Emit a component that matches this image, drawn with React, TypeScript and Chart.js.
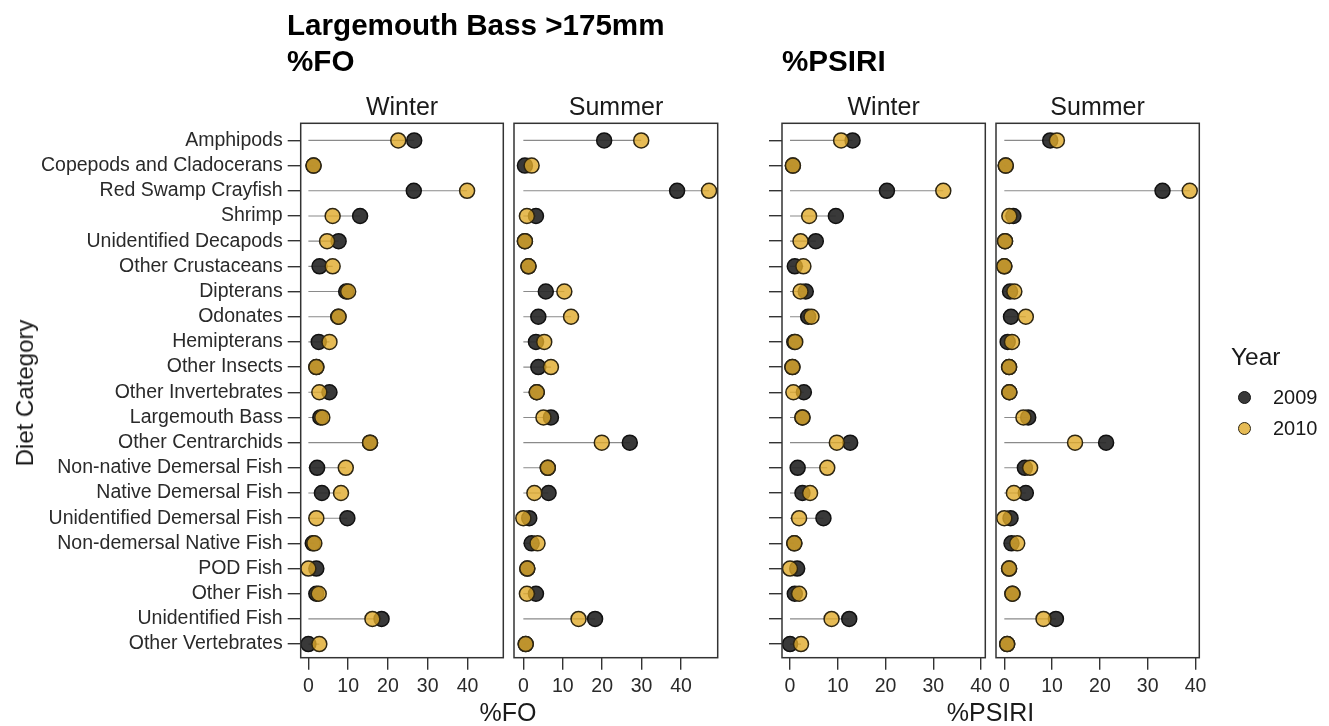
import React, { useEffect, useRef } from "react";
import { Chart, registerables } from "chart.js";
Chart.register(...registerables);

const categories = [
  "Amphipods",
  "Copepods and Cladocerans",
  "Red Swamp Crayfish",
  "Shrimp",
  "Unidentified Decapods",
  "Other Crustaceans",
  "Dipterans",
  "Odonates",
  "Hemipterans",
  "Other Insects",
  "Other Invertebrates",
  "Largemouth Bass",
  "Other Centrarchids",
  "Non-native Demersal Fish",
  "Native Demersal Fish",
  "Unidentified Demersal Fish",
  "Non-demersal Native Fish",
  "POD Fish",
  "Other Fish",
  "Unidentified Fish",
  "Other Vertebrates",
];

const foWinter2009 = [26.6, 1.3, 26.5, 13.0, 7.6, 2.8, 9.5, 7.5, 2.6, 2.0, 5.3, 3.0, 15.5, 2.2, 3.4, 9.8, 1.1, 2.0, 2.0, 18.4, 0.0];
const foWinter2010 = [22.6, 1.3, 39.9, 6.1, 4.7, 6.1, 10.0, 7.6, 5.3, 2.0, 2.75, 3.5, 15.5, 9.4, 8.2, 2.0, 1.5, 0.0, 2.6, 16.1, 2.75];
const foSummer2009 = [20.5, 0.4, 39.0, 3.2, 0.4, 1.3, 5.7, 3.8, 3.2, 3.8, 3.4, 7.0, 27.0, 6.2, 6.4, 1.5, 2.1, 1.0, 3.2, 18.2, 0.6];
const foSummer2010 = [29.9, 2.1, 47.1, 0.9, 0.4, 1.3, 10.4, 12.1, 5.3, 7.0, 3.4, 5.1, 19.9, 6.2, 2.8, 0.0, 3.6, 1.0, 0.9, 14.0, 0.6];
const psiriWinter2009 = [13.1, 0.6, 20.3, 9.6, 5.4, 1.0, 3.3, 3.8, 0.9, 0.5, 2.9, 2.6, 12.6, 1.6, 2.6, 7.0, 0.9, 1.5, 1.0, 12.4, 0.0];
const psiriWinter2010 = [10.7, 0.6, 32.1, 4.0, 2.2, 2.8, 2.2, 4.5, 1.1, 0.5, 0.7, 2.6, 9.8, 7.8, 4.2, 1.9, 0.9, 0.0, 1.9, 8.7, 2.3];
const psiriSummer2009 = [9.6, 0.3, 33.1, 1.9, 0.15, 0.0, 1.2, 1.4, 0.7, 1.0, 1.05, 5.0, 21.3, 4.3, 4.5, 1.3, 1.5, 1.0, 1.7, 10.8, 0.6];
const psiriSummer2010 = [11.0, 0.3, 38.8, 1.05, 0.15, 0.0, 2.1, 4.5, 1.6, 1.0, 1.05, 4.0, 14.8, 5.4, 2.0, 0.0, 2.7, 1.0, 1.7, 8.2, 0.6];

const xTickValues = [0, 10, 20, 30, 40];
const years = ["2009", "2010"];

const W = 1329;
const H = 726;
const PLOT_TOP = 123.3;
const PLOT_BOTTOM = 657.7;
const FONT = "'Liberation Sans', Arial, Helvetica, sans-serif";
const C2009_FILL = "rgba(40,40,40,0.92)";
const C2009_BORDER = "#111111";
const C2010_FILL = "rgba(224,170,42,0.8)";
const C2010_BORDER = "#2e2612";

type Panel = {
  a: number[];
  b: number[];
  left: number;
  right: number;
  min: number;
  max: number;
  yTicks: boolean;
  yLabels: boolean;
};

const panels: Panel[] = [
  { a: foWinter2009, b: foWinter2010, left: 300.7, right: 503.3, min: -1.93, max: 49.0, yTicks: true, yLabels: true },
  { a: foSummer2009, b: foSummer2010, left: 514, right: 717.7, min: -2.37, max: 49.3, yTicks: false, yLabels: false },
  { a: psiriWinter2009, b: psiriWinter2010, left: 782, right: 985.3, min: -1.68, max: 40.9, yTicks: true, yLabels: false },
  { a: psiriSummer2009, b: psiriSummer2010, left: 996, right: 1199.3, min: -1.74, max: 40.8, yTicks: false, yLabels: false },
];

const framePlugin = {
  id: "frame",
  afterDraw(chart: any) {
    const { ctx, chartArea: a } = chart;
    ctx.save();
    ctx.strokeStyle = "#333333";
    ctx.lineWidth = 1.5;
    ctx.strokeRect(a.left, a.top, a.right - a.left, a.bottom - a.top);
    ctx.restore();
  },
};

function PanelChart({ p }: { p: Panel }) {
  const ref = useRef<HTMLCanvasElement | null>(null);
  useEffect(() => {
    if (!ref.current) return;
    const lines = categories.map((_, i) => ({
      type: "line" as const,
      data: [
        { x: 0, y: i },
        { x: Math.max(p.a[i], p.b[i]), y: i },
      ],
      borderColor: "#8a8a8a",
      borderWidth: 1.1,
      pointRadius: 0,
      order: 3,
    }));
    const chart = new Chart(ref.current, {
      type: "scatter",
      data: {
        datasets: [
          ...lines,
          {
            label: years[0],
            data: p.a.map((v, i) => ({ x: v, y: i })),
            backgroundColor: C2009_FILL,
            borderColor: C2009_BORDER,
            borderWidth: 1.5,
            pointRadius: 7.5,
            order: 2,
          } as any,
          {
            label: years[1],
            data: p.b.map((v, i) => ({ x: v, y: i })),
            backgroundColor: C2010_FILL,
            borderColor: C2010_BORDER,
            borderWidth: 1.5,
            pointRadius: 7.5,
            order: 1,
          } as any,
        ],
      },
      options: {
        responsive: false,
        animation: false,
        devicePixelRatio: 1,
        layout: {
          padding: {
            left: 0,
            right: W - p.right,
            top: PLOT_TOP,
            bottom: 0,
          },
        },
        plugins: {
          legend: { display: false },
          tooltip: { enabled: false },
        },
        scales: {
          x: {
            type: "linear",
            min: p.min,
            max: p.max,
            afterBuildTicks: (s: any) => {
              s.ticks = xTickValues.map((v) => ({ value: v }));
            },
            afterFit: (s: any) => {
              s.height = H - PLOT_BOTTOM;
            },
            grid: {
              drawOnChartArea: false,
              drawTicks: true,
              tickLength: 12,
              tickColor: "#333333",
              lineWidth: 1.4,
            },
            border: { display: false },
            ticks: {
              color: "#2a2a2a",
              font: { family: FONT, size: 19.5 },
              padding: 5,
              maxRotation: 0,
              autoSkip: false,
            },
          },
          y: {
            type: "linear",
            reverse: true,
            min: -0.68,
            max: 20.54,
            display: true,
            afterBuildTicks: (s: any) => {
              s.ticks = categories.map((_, i) => ({ value: i }));
            },
            afterFit: (s: any) => {
              s.width = p.left;
            },
            grid: {
              display: p.yTicks,
              drawOnChartArea: false,
              drawTicks: p.yTicks,
              tickLength: 13,
              tickColor: "#333333",
              lineWidth: 1.4,
            },
            border: { display: false },
            ticks: {
              display: p.yLabels,
              color: "#2a2a2a",
              font: { family: FONT, size: 19.5 },
              padding: 5,
              autoSkip: false,
              callback: (v: any) => (p.yLabels ? categories[Number(v)] ?? "" : ""),
            },
          },
        },
      } as any,
      plugins: [framePlugin],
    });
    return () => chart.destroy();
  }, [p]);
  return (
    <canvas
      ref={ref}
      width={W}
      height={H}
      style={{ position: "absolute", left: 0, top: 0, width: W, height: H }}
    />
  );
}

const txt = (extra: React.CSSProperties): React.CSSProperties => ({
  position: "absolute",
  fontFamily: FONT,
  lineHeight: 1,
  whiteSpace: "nowrap",
  color: "#1a1a1a",
  ...extra,
});

const centered = (cx: number, cy: number, size: number, extra: React.CSSProperties = {}) =>
  txt({ left: cx, top: cy, fontSize: size, transform: "translate(-50%, -50%)", ...extra });

export default function App() {
  return (
    <div style={{ position: "absolute", left: 0, top: 0, width: W, height: H, background: "#fff", overflow: "hidden" }}>
      {panels.map((p, i) => (
        <PanelChart key={i} p={p} />
      ))}
      <div style={txt({ left: 287, top: 9.5, fontSize: 29.6, fontWeight: "bold", color: "#000" })}>Largemouth Bass &gt;175mm</div>
      <div style={txt({ left: 287, top: 45.5, fontSize: 29.6, fontWeight: "bold", color: "#000" })}>%FO</div>
      <div style={txt({ left: 782, top: 45.5, fontSize: 29.6, fontWeight: "bold", color: "#000" })}>%PSIRI</div>

      <div style={centered(402, 106, 25)}>Winter</div>
      <div style={centered(616, 106, 25)}>Summer</div>
      <div style={centered(883.6, 106, 25)}>Winter</div>
      <div style={centered(1097.6, 106, 25)}>Summer</div>

      <div style={centered(508, 712, 25)}>%FO</div>
      <div style={centered(990.5, 712, 25)}>%PSIRI</div>
      <div style={centered(25, 393, 24, { transform: "translate(-50%, -50%) rotate(-90deg)" })}>Diet Category</div>

      <div style={txt({ left: 1231, top: 357, fontSize: 24.5, transform: "translateY(-50%)" })}>Year</div>
      {years.map((y, i) => (
        <React.Fragment key={y}>
          <div
            style={{
              position: "absolute",
              left: 1244 - 6.5,
              top: (i === 0 ? 397 : 428) - 6.5,
              width: 13,
              height: 13,
              boxSizing: "border-box",
              borderRadius: "50%",
              background: i === 0 ? C2009_FILL : C2010_FILL,
              border: `1.5px solid ${i === 0 ? C2009_BORDER : C2010_BORDER}`,
            }}
          />
          <div style={txt({ left: 1273, top: i === 0 ? 397 : 428, fontSize: 20, transform: "translateY(-50%)" })}>{y}</div>
        </React.Fragment>
      ))}
    </div>
  );
}
